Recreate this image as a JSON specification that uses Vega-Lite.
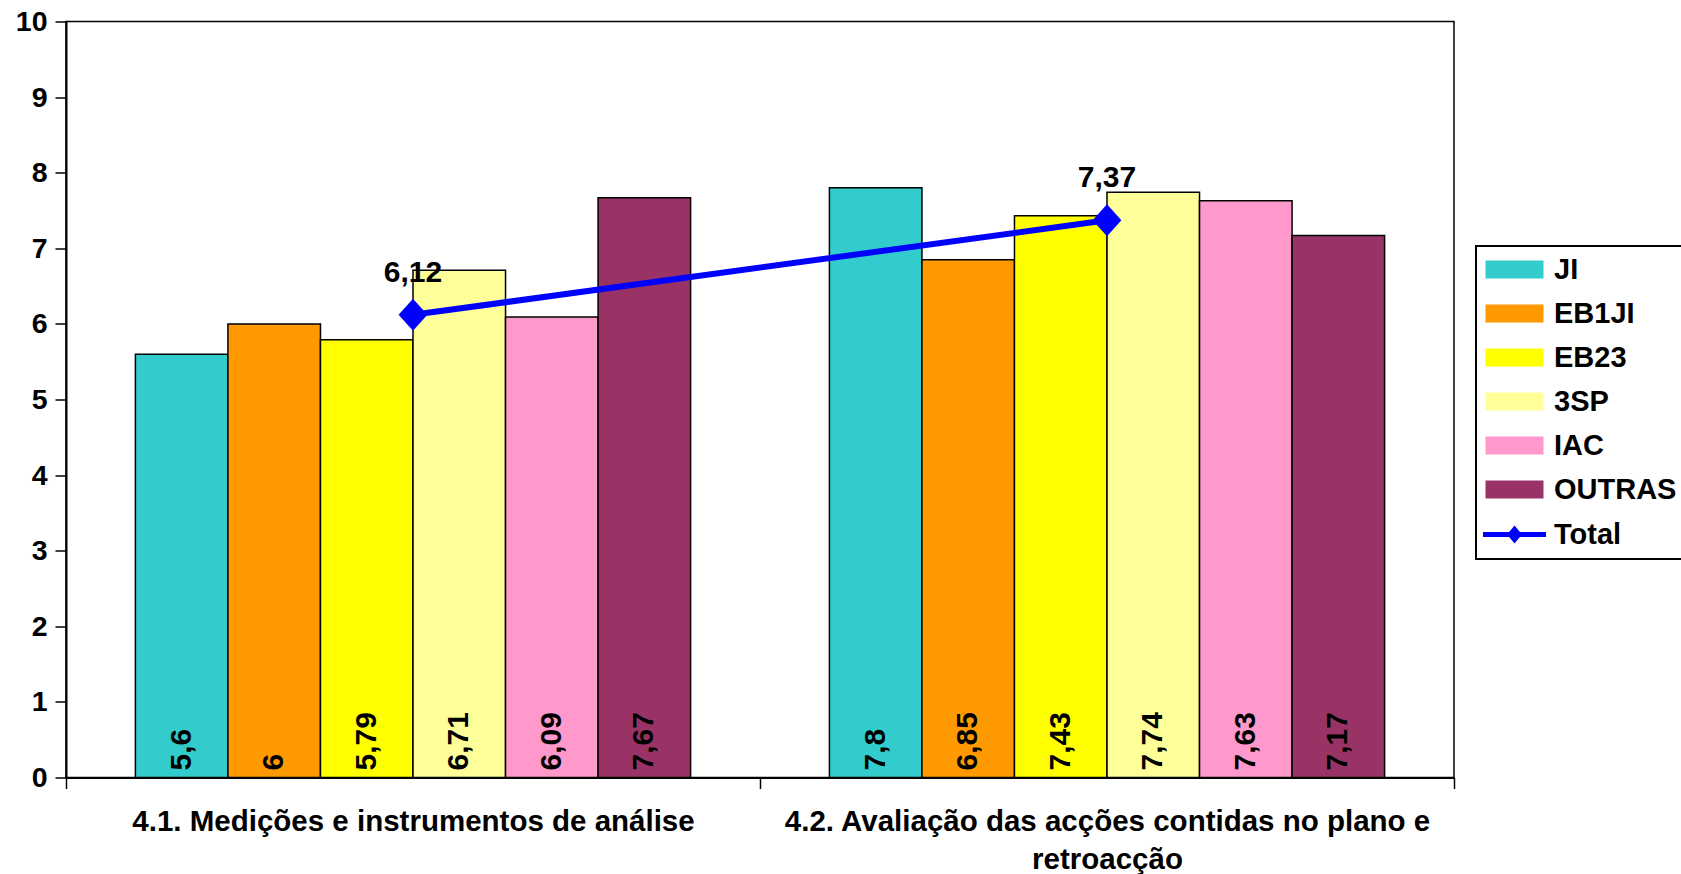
{
  "$schema": "https://vega.github.io/schema/vega-lite/v6.json",
  "width": 1388,
  "height": 756,
  "autosize": {"type": "none"},
  "padding": {"left": 66, "top": 21.5, "right": 227, "bottom": 96.5},
  "config": {
    "locale": {"number": {"decimal": ",", "thousands": ".", "grouping": [3], "currency": ["", " €"]}},
    "view": {"stroke": "black", "strokeWidth": 1.5},
    "font": "Liberation Sans",
    "axis": {"labelFont": "Liberation Sans", "labelFontWeight": "bold", "labelColor": "black", "domainColor": "black", "tickColor": "black", "grid": false, "title": null},
    "legend": {
      "title": null, "orient": "none", "legendX": 1410, "legendY": 224.5,
      "strokeColor": "black", "fillColor": "white", "padding": 9,
      "symbolSize": 784, "symbolOffset": 15, "labelOffset": 25, "rowPadding": 14,
      "labelFontSize": 29, "labelFont": "Liberation Sans", "labelFontWeight": "bold", "labelColor": "black",
      "symbolStrokeColor": "black", "symbolStrokeWidth": 2
    }
  },
  "data": {
    "values": [
      {"cat": "4.1. Medições e instrumentos de análise", "series": "JI", "value": 5.6},
      {"cat": "4.1. Medições e instrumentos de análise", "series": "EB1JI", "value": 6},
      {"cat": "4.1. Medições e instrumentos de análise", "series": "EB23", "value": 5.79},
      {"cat": "4.1. Medições e instrumentos de análise", "series": "3SP", "value": 6.71},
      {"cat": "4.1. Medições e instrumentos de análise", "series": "IAC", "value": 6.09},
      {"cat": "4.1. Medições e instrumentos de análise", "series": "OUTRAS", "value": 7.67},
      {"cat": "4.1. Medições e instrumentos de análise", "series": "Total", "value": 6.12},
      {"cat": "4.2. Avaliação das acções contidas no plano e retroacção", "series": "JI", "value": 7.8},
      {"cat": "4.2. Avaliação das acções contidas no plano e retroacção", "series": "EB1JI", "value": 6.85},
      {"cat": "4.2. Avaliação das acções contidas no plano e retroacção", "series": "EB23", "value": 7.43},
      {"cat": "4.2. Avaliação das acções contidas no plano e retroacção", "series": "3SP", "value": 7.74},
      {"cat": "4.2. Avaliação das acções contidas no plano e retroacção", "series": "IAC", "value": 7.63},
      {"cat": "4.2. Avaliação das acções contidas no plano e retroacção", "series": "OUTRAS", "value": 7.17},
      {"cat": "4.2. Avaliação das acções contidas no plano e retroacção", "series": "Total", "value": 7.37}
    ]
  },
  "encoding": {
    "x": {
      "field": "cat", "type": "nominal", "sort": null,
      "scale": {"paddingInner": 0, "paddingOuter": 0},
      "axis": {
        "labelAngle": 0, "tickBand": "extent", "tickSize": 11, "tickWidth": 1.5, "domainWidth": 2,
        "labelPadding": 19, "labelFontSize": 29.5, "labelLimit": 0, "labelLineHeight": 38,
        "labelExpr": "datum.label == '4.2. Avaliação das acções contidas no plano e retroacção' ? ['4.2. Avaliação das acções contidas no plano e', 'retroacção'] : datum.label"
      }
    },
    "y": {
      "field": "value", "type": "quantitative",
      "scale": {"domain": [0, 10], "nice": false},
      "axis": {"tickCount": 10, "tickSize": 11, "tickWidth": 1.5, "domainWidth": 2, "labelPadding": 8, "labelFontSize": 28.5}
    },
    "color": {
      "field": "series", "type": "nominal",
      "scale": {"domain": ["JI", "EB1JI", "EB23", "3SP", "IAC", "OUTRAS", "Total"], "range": ["#33CCCC", "#FF9900", "#FFFF00", "#FFFF99", "#FF99CC", "#993366", "#0000FF"]},
      "legend": {
        "encode": {
          "legend": {"update": {"strokeWidth": {"value": 2}}},
          "symbols": {"update": {
            "shape": {"signal": "datum.value === 'Total' ? 'M-2.25,0H2.25M0,-0.36L0.3,0L0,0.36L-0.3,0Z' : 'M-2,-0.57H2V0.57H-2Z'"},
            "stroke": {"signal": "datum.value === 'Total' ? '#0000FF' : 'black'"},
            "strokeWidth": {"signal": "datum.value === 'Total' ? 5 : 2"}
          }}
        }
      }
    }
  },
  "layer": [
    {
      "transform": [{"filter": "datum.series != 'Total'"}],
      "mark": {"type": "bar", "stroke": "black", "strokeWidth": 1.5},
      "encoding": {
        "xOffset": {"field": "series", "type": "nominal", "scale": {"domain": ["JI", "EB1JI", "EB23", "3SP", "IAC", "OUTRAS"], "paddingInner": 0, "paddingOuter": 0.75}}
      }
    },
    {
      "transform": [{"filter": "datum.series != 'Total'"}],
      "mark": {"type": "text", "angle": 270, "align": "left", "baseline": "middle", "dx": 7, "fontSize": 30, "fontWeight": "bold", "font": "Liberation Sans"},
      "encoding": {
        "xOffset": {"field": "series", "type": "nominal", "scale": {"domain": ["JI", "EB1JI", "EB23", "3SP", "IAC", "OUTRAS"], "paddingInner": 0, "paddingOuter": 0.75}},
        "y": {"datum": 0},
        "color": {"value": "black"},
        "text": {"field": "value", "type": "quantitative", "format": ".2~f"}
      }
    },
    {
      "transform": [{"filter": "datum.series == 'Total'"}],
      "mark": {"type": "line", "strokeWidth": 6}
    },
    {
      "transform": [{"filter": "datum.series == 'Total'"}],
      "mark": {"type": "point", "filled": true, "opacity": 1, "shape": "M0,-1L0.9,0L0,1L-0.9,0Z", "size": 1024}
    },
    {
      "transform": [{"filter": "datum.series == 'Total'"}],
      "mark": {"type": "text", "dy": -42, "fontSize": 30, "fontWeight": "bold", "font": "Liberation Sans", "baseline": "middle"},
      "encoding": {
        "color": {"value": "black"},
        "text": {"field": "value", "type": "quantitative", "format": ".2~f"}
      }
    }
  ]
}
